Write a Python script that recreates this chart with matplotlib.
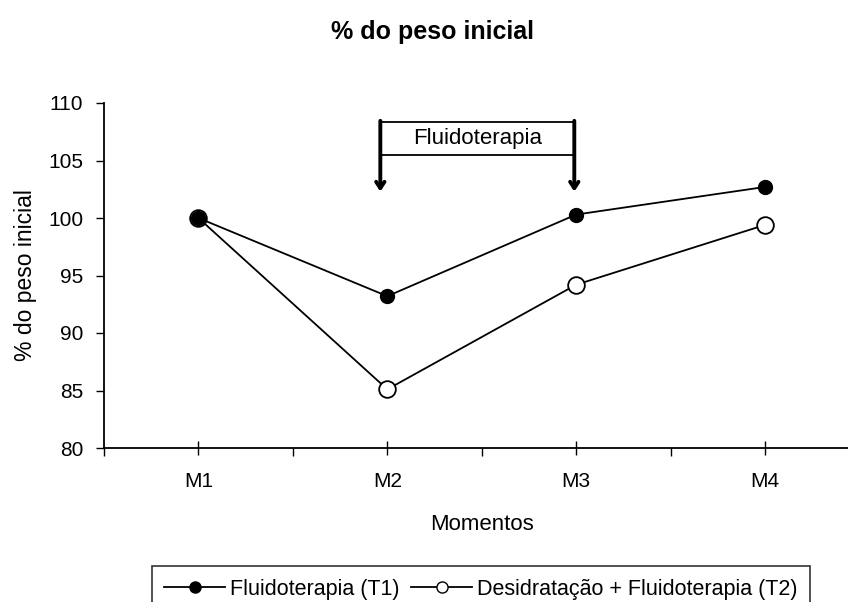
import matplotlib
matplotlib.use("Agg")
import matplotlib.pyplot as plt
from matplotlib.lines import Line2D
from matplotlib.patches import Rectangle
import numpy as np

plt.rcParams['font.family'] = ['Liberation Sans', 'DejaVu Sans']

momentos = ["M1", "M2", "M3", "M4"]
t1 = [100.0, 93.2, 100.3, 102.7]
t2 = [100.0, 85.1, 94.2, 99.4]
y_ticks = [80, 85, 90, 95, 100, 105, 110]

fig = plt.figure(figsize=(8.48, 6.02), dpi=100)
ax = fig.add_axes([104 / 848, 154 / 602, 755.5 / 848, 345 / 602])

x = np.arange(len(momentos))
ax.plot(x, t1, color="black", lw=1.3, marker="o", ms=10,
        mfc="black", mec="black", zorder=3)
ax.plot(x, t2, color="black", lw=1.3, marker="o", ms=12,
        mfc="white", mec="black", mew=1.3, zorder=2)

ax.set_xlim(-0.5, 3.5)
ax.set_ylim(80, 110)
ax.set_yticks(y_ticks)
ax.set_xticks(x)
ax.set_xticklabels(momentos)
ax.set_xticks(np.arange(-0.5, 4.0, 1.0), minor=True)
ax.tick_params(axis="x", which="major", direction="inout", length=10, width=1, labelsize=15, pad=12)
ax.tick_params(axis="x", which="minor", direction="out", length=6, width=1)
ax.tick_params(axis="y", direction="out", length=6, width=1, labelsize=15, pad=9)

for s in ["top", "right"]:
    ax.spines[s].set_visible(False)
for s in ["left", "bottom"]:
    ax.spines[s].set_linewidth(1.3)

ax.set_xlabel("Momentos", fontsize=16, labelpad=17)
ax.set_ylabel("% do peso inicial", fontsize=16.5, labelpad=8)

# caixa "Fluidoterapia" com setas
x0, x1 = 0.963, 1.99
ax.add_patch(Rectangle((x0, 105.45), x1 - x0, 108.35 - 105.45,
                       fc="white", ec="black", lw=1.3, zorder=4))
ax.text((x0 + x1) / 2, 106.9, "Fluidoterapia", ha="center", va="center",
        fontsize=16, zorder=5)
for xa in [x0, x1]:
    ax.annotate("", xy=(xa, 102.3), xytext=(xa, 108.45),
                arrowprops=dict(arrowstyle="->,head_length=0.45,head_width=0.3",
                                color="black", lw=2.8, shrinkA=0, shrinkB=0),
                zorder=6)

fig.text(0.51, 0.947, "% do peso inicial", ha="center", va="center",
         fontsize=18, fontweight="bold")

handles = [
    Line2D([], [], color="black", lw=1.3, marker="o", ms=8, mfc="black", mec="black"),
    Line2D([], [], color="black", lw=1.3, marker="o", ms=8, mfc="white", mec="black"),
]
labels = ["Fluidoterapia (T1)", "Desidratação + Fluidoterapia (T2)"]
leg = fig.legend(handles, labels, loc="upper center", bbox_to_anchor=(481 / 848, 36 / 602),
                 ncol=2, fontsize=15.5, frameon=True, fancybox=False, edgecolor="black",
                 handlelength=2.8, handletextpad=0.25, columnspacing=0.55,
                 borderpad=0.6, borderaxespad=0)
leg.get_frame().set_linewidth(1.2)

fig.savefig("out.png", dpi=100)
